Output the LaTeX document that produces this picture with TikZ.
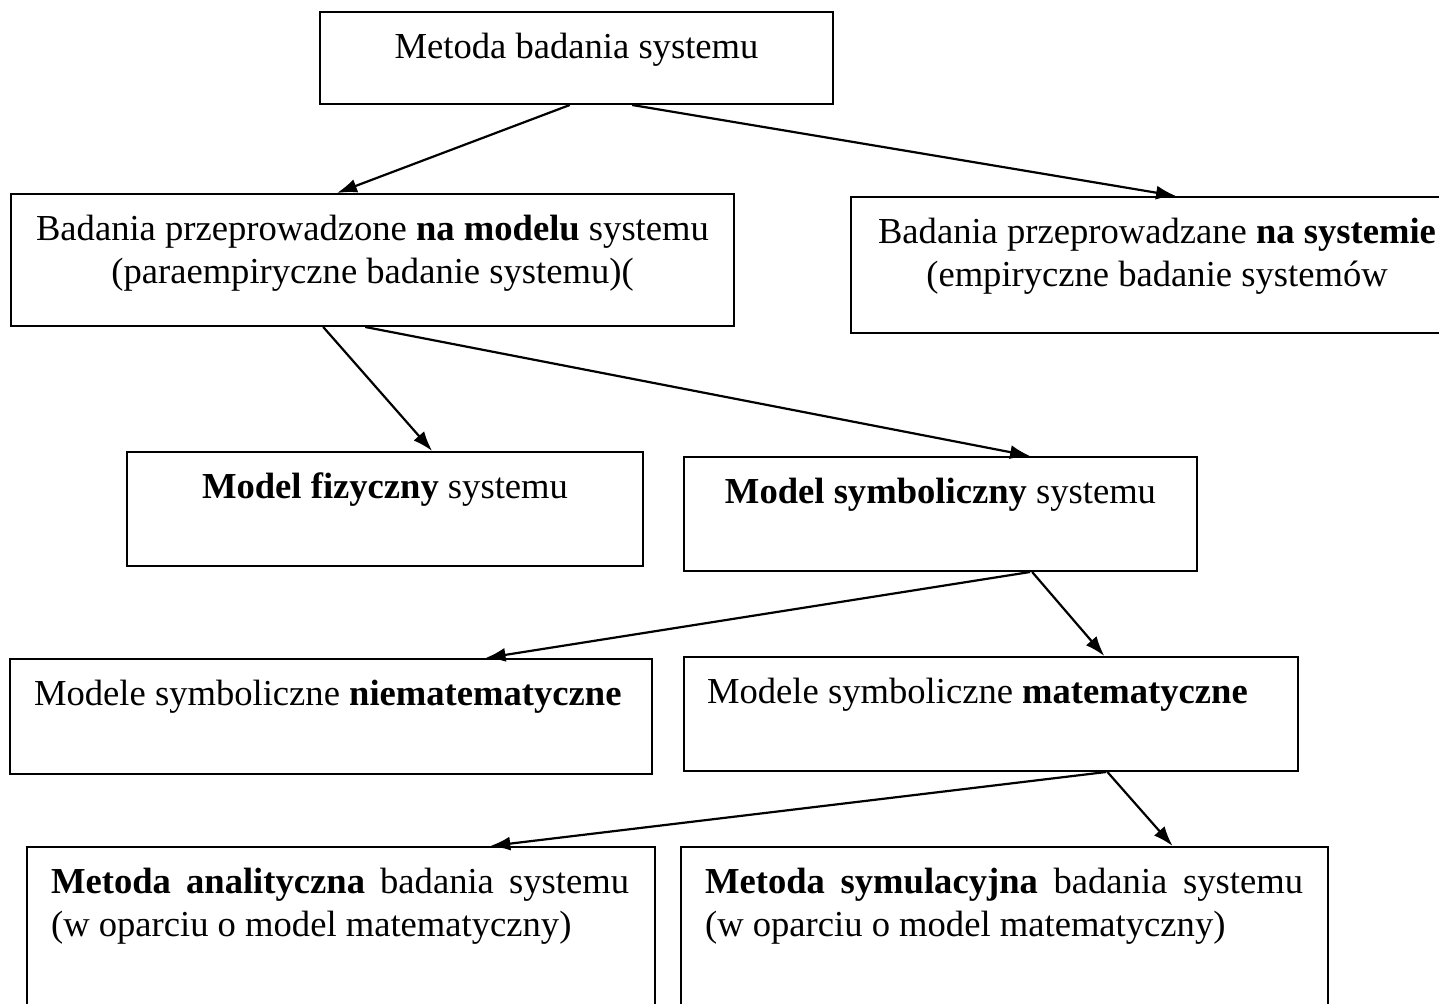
\documentclass[tikz,border=0pt]{standalone}
\usepackage{fontspec}
\setmainfont{Liberation Serif}
\usetikzlibrary{calc,arrows.meta}

\begin{document}
\begin{tikzpicture}[x=0.5pt,y=-0.5pt,
box/.style={draw,rectangle,line width=1pt,inner sep=0pt},
txt/.style={font=\fontsize{18.3pt}{21.5pt}\selectfont,anchor=north,yshift=-7.5pt,align=center},
ltxt/.style={txt,anchor=north west,xshift=9pt,align=left},
arr/.style={-{Latex[length=10pt,width=7pt]},line width=1.1pt}]
\useasboundingbox (0,0) rectangle (1439,1004);
\clip (0,0) rectangle (1439,1004);

\node (metoda) [box,minimum width=256.5pt,minimum height=46pt,
    label={[txt]north:Metoda badania systemu}] at (576.5,58) {};

\node (model) [box,minimum width=361.5pt,minimum height=66pt,
    label={[txt]north:Badania przeprowadzone \textbf{na modelu} systemu\\(paraempiryczne badanie systemu)(}] at (372.5,260) {};
\node (system) [box,minimum width=306pt,minimum height=68pt,
    label={[txt]north:Badania przeprowadzane \textbf{na systemie}\\(empiryczne badanie systemów}] at (1157,265) {};

\node (fizyczny) [box,minimum width=258pt,minimum height=57pt,
    label={[txt]north:\textbf{Model fizyczny} systemu}] at (385,509) {};
\node (symboliczny) [box,minimum width=256.5pt,minimum height=57pt,
    label={[txt]north:\textbf{Model symboliczny} systemu}] at (940.5,514) {};

\node (niemat) [box,minimum width=321pt,minimum height=57.5pt,
    label={[ltxt]north west:Modele symboliczne \textbf{niematematyczne}}] at (331,716.5) {};
\node (matem) [box,minimum width=307pt,minimum height=57pt,
    label={[ltxt,xshift=-0.5pt]north west:Modele symboliczne \textbf{matematyczne}}] at (991,714) {};

\node (analit) [box,minimum width=314pt,minimum height=81.5pt,
    label={[ltxt]north west:\makebox[289pt][s]{\textbf{Metoda analityczna} badania systemu}\\(w oparciu o model matematyczny)}] at (341,928.5) {};
\node (symul) [box,minimum width=323.5pt,minimum height=81.5pt,
    label={[ltxt]north west:\makebox[299pt][s]{\textbf{Metoda symulacyjna} badania systemu}\\(w oparciu o model matematyczny)}] at (1004.5,928.5) {};

% polaczenia
\draw[arr] ($(metoda.south west)!0.487!(metoda.south east)$) -- ($(model.north west)!0.451!(model.north east)$);
\draw[arr] ($(metoda.south west)!0.608!(metoda.south east)$) -- ($(system.north west)!0.531!(system.north east)$);
\draw[arr] ($(model.south west)!0.432!(model.south east)$) -- ($(fizyczny.north west)!0.591!(fizyczny.north east)$);
\draw[arr] ($(model.south west)!0.490!(model.south east)$) -- ($(symboliczny.north west)!0.674!(symboliczny.north east)$);
\draw[arr] ($(symboliczny.south west)!0.674!(symboliczny.south east)$) -- ($(niemat.north west)!0.740!(niemat.north east)$);
\draw[arr] ($(symboliczny.south west)!0.678!(symboliczny.south east)$) -- ($(matem.north west)!0.684!(matem.north east)$);
\draw[arr] ($(matem.south west)!0.687!(matem.south east)$) -- ($(analit.north west)!0.737!(analit.north east)$);
\draw[arr] ($(matem.south west)!0.689!(matem.south east)$) -- ($(symul.north west)!0.759!(symul.north east)$);
\end{tikzpicture}
\end{document}
